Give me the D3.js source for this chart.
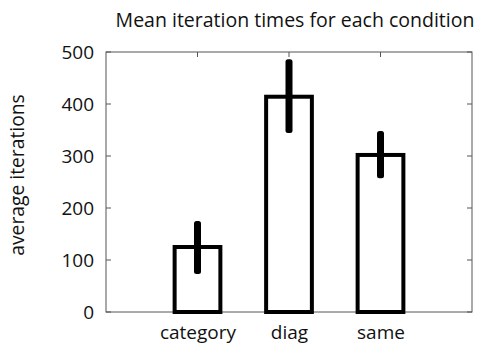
<!DOCTYPE html>
<html>
<head>
<meta charset="utf-8">
<script src="https://cdn.jsdelivr.net/npm/d3@7"></script>
<style>
  body { margin: 0; background: #fff; }
  text { font-family: "Open Sans", "Noto Sans", sans-serif; fill: #111; }
</style>
</head>
<body>
<svg id="chart"></svg>
<script>
// values
const conditions = ["category", "diag", "same"];
const means = [125, 414, 302];
const errLow = [73, 344, 257];
const errHigh = [175, 486, 348];
const yTicks = [0, 100, 200, 300, 400, 500];

let svgWidth = 478, svgHeight = 348;
let margin = { top: 52, right: 6, bottom: 36, left: 106 };
let width = svgWidth - margin.left - margin.right;
let height = svgHeight - margin.top - margin.bottom;

let svg = d3.select('#chart')
  .attr('width', svgWidth)
  .attr('height', svgHeight);

let g = svg.append("g")
  .attr("transform", "translate(" + margin.left + "," + margin.top + ")");

// categories sit at 1..n on a linear axis from 0 to n+1
let x = d3.scaleLinear().domain([0, conditions.length + 1]).range([0, width]);
let y = d3.scaleLinear().domain([0, 500]).range([height, 0]);
let barW = x(0.5) - x(0);

// frame with inward ticks on all sides
let axisColor = "#555";
let left = g.append("g").call(d3.axisLeft(y).tickValues(yTicks).tickSize(0).tickPadding(12));
left.select(".domain").remove();
left.selectAll("text").style("font-size", "19px").attr("dy", "0.35em");

let bottom = g.append("g").attr("transform", "translate(0," + height + ")")
  .call(d3.axisBottom(x).tickValues([1, 2, 3]).tickSize(0).tickPadding(14)
    .tickFormat(d => conditions[d - 1]));
bottom.select(".domain").remove();
bottom.selectAll("text").style("font-size", "19px").attr("dy", "0.71em");

g.append("rect")
  .attr("x", 0).attr("y", 0).attr("width", width).attr("height", height)
  .attr("fill", "none").attr("stroke", axisColor).attr("stroke-width", 1);

let tickLen = 5;
yTicks.forEach(t => {
  g.append("line").attr("x1", 0).attr("x2", tickLen).attr("y1", y(t)).attr("y2", y(t))
    .attr("stroke", axisColor);
  g.append("line").attr("x1", width).attr("x2", width - tickLen).attr("y1", y(t)).attr("y2", y(t))
    .attr("stroke", axisColor);
});
[1, 2, 3].forEach(t => {
  g.append("line").attr("x1", x(t)).attr("x2", x(t)).attr("y1", 0).attr("y2", tickLen)
    .attr("stroke", axisColor);
  g.append("line").attr("x1", x(t)).attr("x2", x(t)).attr("y1", height).attr("y2", height - tickLen)
    .attr("stroke", axisColor);
});

// bars
g.selectAll(".bar")
  .data(means)
  .enter().append("rect")
  .attr("class", "bar")
  .attr("x", (d, i) => x(i + 1) - barW / 2)
  .attr("y", d => y(d))
  .attr("width", barW)
  .attr("height", d => y(0) - y(d))
  .attr("fill", "#fff")
  .attr("stroke", "#000")
  .attr("stroke-width", 4);

// error bars
g.selectAll(".err")
  .data(means)
  .enter().append("rect")
  .attr("class", "err")
  .attr("x", (d, i) => x(i + 1) - 3.5)
  .attr("y", (d, i) => y(errHigh[i]))
  .attr("width", 7)
  .attr("height", (d, i) => y(errLow[i]) - y(errHigh[i]))
  .attr("rx", 2.5)
  .attr("fill", "#000");

// title and y label
svg.append("text")
  .attr("x", 295)
  .attr("y", 27)
  .attr("text-anchor", "middle")
  .style("font-size", "19.5px")
  .text("Mean iteration times for each condition");

svg.append("text")
  .attr("transform", "translate(24,175) rotate(-90)")
  .attr("text-anchor", "middle")
  .style("font-size", "19.3px")
  .text("average iterations");
</script>
</body>
</html>
